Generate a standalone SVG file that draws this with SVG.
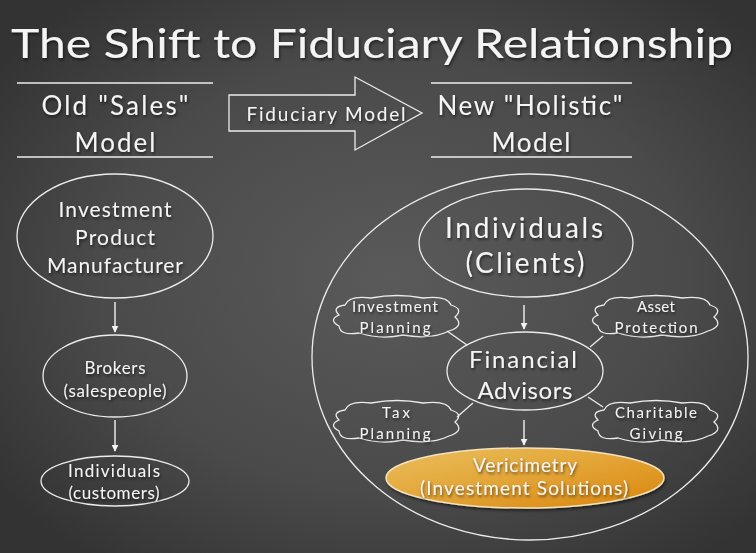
<svg xmlns="http://www.w3.org/2000/svg" width="756" height="553" viewBox="0 0 756 553">
<defs>
<radialGradient id="bg" cx="52%" cy="50%" r="65%">
<stop offset="0" stop-color="#5a5a5a"/>
<stop offset="0.6" stop-color="#4a4a4a"/>
<stop offset="1" stop-color="#333333"/>
</radialGradient>
<linearGradient id="orange" x1="0" y1="0" x2="1" y2="1">
<stop offset="0" stop-color="#e9bf5f"/>
<stop offset="0.5" stop-color="#e3a435"/>
<stop offset="1" stop-color="#d9850c"/>
</linearGradient>
<filter id="sh" x="-10%" y="-30%" width="120%" height="160%">
<feDropShadow dx="1" dy="2" stdDeviation="1.5" flood-color="#000" flood-opacity="0.55"/>
</filter>
<marker id="ah" viewBox="0 0 10 10" refX="9" refY="5" markerWidth="7" markerHeight="7" orient="auto" markerUnits="userSpaceOnUse">
<path d="M0,0 L10,5 L0,10 z" fill="#f2f2f2"/>
</marker>
<path id="cloud" d="M14,10 Q18,0 40,3 Q66,-2 92,3 Q116,0 120,10 Q133,14 124,22 Q134,31 118,36 Q100,45 72,40 Q50,45 28,38 Q9,41 8,31 Q-3,25 8,20 Q0,12 14,10 Z"/>
</defs>
<style>
text{font-family:"Lato","Open Sans","Liberation Sans",sans-serif;fill:#f4f4f4;text-anchor:middle;filter:url(#sh)}
.sh{fill:none;stroke:#ececec;stroke-width:1.3}
.ln{stroke:#ececec;stroke-width:1.3;fill:none}
.ar{stroke:#f2f2f2;stroke-width:1.4;fill:none;marker-end:url(#ah)}
.t40{font-size:40px}
.t26{font-size:26px}
.t19{font-size:19px}
.t21{font-size:21px}
.t17{font-size:17px}
.t28{font-size:28px}
.t24{font-size:24px}
.t15{font-size:15px}
</style>
<rect width="756" height="553" fill="url(#bg)"/>

<g id="title">
<text class="t40" x="372" y="58" textLength="722" lengthAdjust="spacingAndGlyphs">The Shift to Fiduciary Relationship</text>
</g>

<g id="old-header">
<line class="ln" x1="17" y1="83" x2="213" y2="83"/>
<line class="ln" x1="17" y1="157" x2="213" y2="157"/>
<text class="t26" x="115" y="115" textLength="147">Old "Sales"</text>
<text class="t26" x="115" y="152" textLength="81">Model</text>
</g>

<g id="new-header">
<line class="ln" x1="431" y1="83" x2="632" y2="83"/>
<line class="ln" x1="431" y1="157" x2="632" y2="157"/>
<text class="t26" x="530" y="115" textLength="185">New "Holistic"</text>
<text class="t26" x="531" y="152" textLength="79">Model</text>
</g>

<g id="fiduciary-arrow">
<path class="sh" d="M229,95 L355,95 L355,77 L422,113 L355,150 L355,131 L229,131 Z"/>
<text class="t19" x="326" y="121" textLength="159">Fiduciary Model</text>
</g>

<g id="manufacturer">
<ellipse class="sh" cx="115" cy="236" rx="98" ry="62"/>
<text class="t21" x="115" y="217" textLength="113">Investment</text>
<text class="t21" x="115" y="245" textLength="80">Product</text>
<text class="t21" x="115" y="273" textLength="136">Manufacturer</text>
</g>

<g id="brokers">
<ellipse class="sh" cx="115" cy="376" rx="72" ry="41"/>
<text class="t17" x="115" y="374" textLength="61">Brokers</text>
<text class="t17" x="115" y="397" textLength="103">(salespeople)</text>
</g>

<g id="customers">
<ellipse class="sh" cx="115" cy="481" rx="74" ry="25"/>
<text class="t17" x="114" y="477" textLength="92">Individuals</text>
<text class="t17" x="114" y="499" textLength="91">(customers)</text>
</g>

<g id="holistic-circle">
<ellipse class="sh" cx="530" cy="357" rx="218" ry="183"/>
</g>

<g id="clients">
<ellipse class="sh" cx="526" cy="243" rx="107" ry="54"/>
<text class="t28" x="524" y="238" textLength="158">Individuals</text>
<text class="t28" x="525" y="273" textLength="119">(Clients)</text>
</g>

<g id="advisors">
<ellipse class="sh" cx="525" cy="371" rx="78" ry="39"/>
<text class="t24" x="523" y="368" textLength="108">Financial</text>
<text class="t24" x="525" y="399" textLength="95">Advisors</text>
</g>

<g id="vericimetry">
<ellipse cx="525" cy="478" rx="139" ry="30" fill="url(#orange)" stroke="#f3e2c0" stroke-width="1.5" filter="url(#sh)"/>
<text class="t19" x="525" y="472" textLength="104">Vericimetry</text>
<text class="t19" x="524" y="495" textLength="208">(Investment Solutions)</text>
</g>

<g id="investment-planning">
<use href="#cloud" class="sh" x="331" y="295"/>
<text class="t15" x="395" y="312" textLength="86">Investment</text>
<text class="t15" x="395" y="333" textLength="71">Planning</text>
</g>

<g id="asset-protection">
<use href="#cloud" class="sh" x="590" y="295"/>
<text class="t15" x="656" y="312" textLength="38">Asset</text>
<text class="t15" x="656" y="333" textLength="83">Protection</text>
</g>

<g id="tax-planning">
<use href="#cloud" class="sh" x="331" y="400"/>
<text class="t15" x="396" y="418" textLength="28">Tax</text>
<text class="t15" x="395" y="439" textLength="71">Planning</text>
</g>

<g id="charitable-giving">
<use href="#cloud" class="sh" x="590" y="400"/>
<text class="t15" x="656" y="418" textLength="82">Charitable</text>
<text class="t15" x="656" y="439" textLength="53">Giving</text>
</g>

<g id="connectors">
<line class="ar" x1="115" y1="302" x2="115" y2="332"/>
<line class="ar" x1="115" y1="420" x2="115" y2="451"/>
<line class="ar" x1="524" y1="305" x2="524" y2="329"/>
<line class="ar" x1="524" y1="420" x2="524" y2="445"/>
<line class="ln" x1="447" y1="331" x2="467" y2="345"/>
<line class="ln" x1="603" y1="336" x2="590" y2="347"/>
<line class="ln" x1="473" y1="403" x2="457" y2="417"/>
<line class="ln" x1="588" y1="397" x2="603" y2="407"/>
</g>
</svg>
